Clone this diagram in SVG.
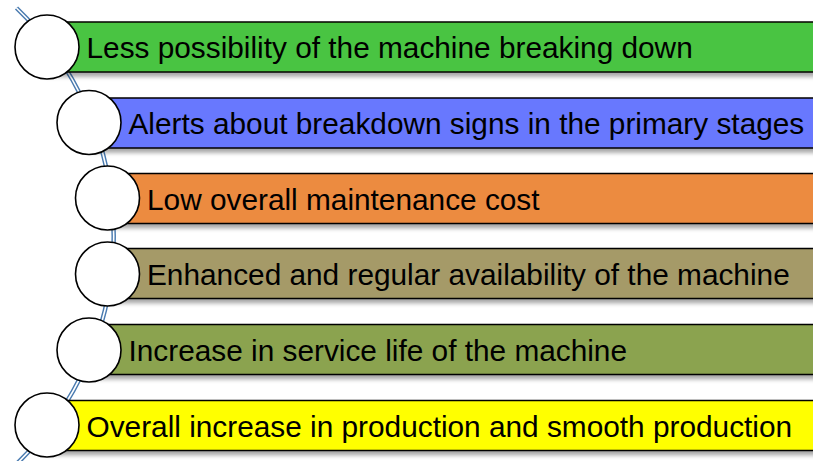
<svg xmlns="http://www.w3.org/2000/svg" width="813" height="461" viewBox="0 0 813 461">
<defs>
<filter id="sh" x="-5%" y="-20%" width="110%" height="160%">
<feDropShadow dx="0" dy="4" stdDeviation="2" flood-color="#000" flood-opacity="0.35"/>
</filter>
</defs>
<style>
.bar{stroke:#000;stroke-width:1.5;filter:url(#sh)}
.dot{fill:#fff;stroke:#000;stroke-width:1.6}
.lbl{font-family:"Liberation Sans",Arial,sans-serif;font-size:29.8px;fill:#000}
.arcO{fill:none;stroke:#4a7bb0;stroke-width:4.5}
.arcI{fill:none;stroke:#fff;stroke-width:1.6}
</style>
<g id="connectors">
<path class="arcO" d="M 16.5 8 A 316 316 0 0 1 16.5 464"/>
<path class="arcI" d="M 16.5 8 A 316 316 0 0 1 16.5 464"/>
</g>
<g id="n1">
<rect class="bar" x="47" y="22" width="800" height="50" fill="#49c443"/>
<circle class="dot" cx="47" cy="47" r="32"/>
<text class="lbl" x="86.5" y="58">Less possibility of the machine breaking down</text>
</g>
<g id="n2">
<rect class="bar" x="89" y="98" width="760" height="50" fill="#6878fe"/>
<circle class="dot" cx="89" cy="122.5" r="32"/>
<text class="lbl" x="128.5" y="134">Alerts about breakdown signs in the primary stages</text>
</g>
<g id="n3">
<rect class="bar" x="107.5" y="173.5" width="740" height="50" fill="#ec8b40"/>
<circle class="dot" cx="107.5" cy="198" r="32"/>
<text class="lbl" x="147" y="209.5">Low overall maintenance cost</text>
</g>
<g id="n4">
<rect class="bar" x="107.5" y="248.5" width="740" height="50" fill="#a59a67"/>
<circle class="dot" cx="107.5" cy="274" r="32"/>
<text class="lbl" x="147" y="284.5">Enhanced and regular availability of the machine</text>
</g>
<g id="n5">
<rect class="bar" x="89" y="324.5" width="760" height="50" fill="#8ba34f"/>
<circle class="dot" cx="89" cy="350" r="32"/>
<text class="lbl" x="128.5" y="360.5">Increase in service life of the machine</text>
</g>
<g id="n6">
<rect class="bar" x="47" y="400.5" width="800" height="50" fill="#ffff00"/>
<circle class="dot" cx="47" cy="425" r="32"/>
<text class="lbl" x="86.5" y="436.5">Overall increase in production and smooth production</text>
</g>
</svg>
